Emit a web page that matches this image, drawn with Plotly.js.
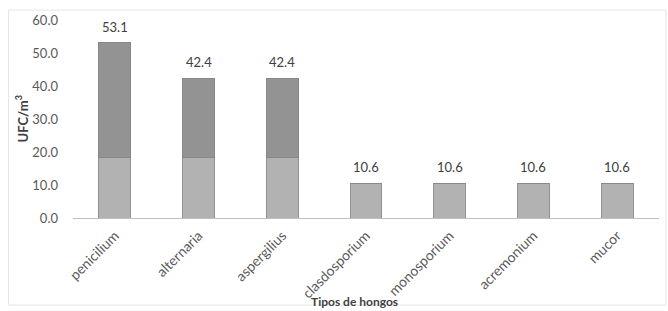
<!DOCTYPE html>
<html>
<head>
<meta charset="utf-8">
<script src="https://cdn.plot.ly/plotly-3.0.1.min.js"></script>
<style>
html,body{margin:0;padding:0;background:#fff;}
#chart{width:668px;height:311px;}
</style>
</head>
<body>
<div id="chart"></div>
<script>
// Data
const categories = ["penicilium", "alternaria", "aspergilius", "clasdosporium", "monosporium", "acremonium", "mucor"];
const lowerPart = [18.2, 18.2, 18.2, 10.6, 10.6, 10.6, 10.6];
const upperPart = [34.9, 24.2, 24.2, 0, 0, 0, 0];
const totals = [53.1, 42.4, 42.4, 10.6, 10.6, 10.6, 10.6];
const totalLabels = ["53.1", "42.4", "42.4", "10.6", "10.6", "10.6", "10.6"];
const yTickVals = [0, 10, 20, 30, 40, 50, 60];
const yTickText = ["0.0", "10.0", "20.0", "30.0", "40.0", "50.0", "60.0"];

const font = "Lato, 'Open Sans', sans-serif";

const traces = [
  {type: "bar", x: categories, y: lowerPart, marker: {color: "#b2b2b2", line: {color: "#939393", width: 1}}, hoverinfo: "skip"},
  {type: "bar", x: categories, y: upperPart, marker: {color: "#939393", line: {color: "#888888", width: 1}}, hoverinfo: "skip"}
];

const labelAnnotations = categories.map((c, i) => ({
  x: c, y: totals[i], xref: "x", yref: "y", text: totalLabels[i], showarrow: false,
  yanchor: "bottom", yshift: 6, font: {family: font, size: 13, color: "#404040"}
}));

const layout = {
  width: 668, height: 311,
  margin: {l: 73, r: 9, t: 20, b: 93},
  paper_bgcolor: "#ffffff", plot_bgcolor: "#ffffff",
  barmode: "stack", bargap: 0.62, showlegend: false,
  font: {family: font, color: "#595959"},
  xaxis: {
    type: "category", tickangle: -45, showline: true, linecolor: "#bfbfbf", linewidth: 1,
    ticks: "", showgrid: false, ticklabelstandoff: 3, tickfont: {family: font, size: 14, color: "#595959"}, automargin: false
  },
  yaxis: {
    range: [0, 60], tickvals: yTickVals, ticktext: yTickText, showgrid: false, zeroline: false,
    showline: false, ticks: "", ticklabelstandoff: 14, tickfont: {family: font, size: 13, color: "#595959"}, automargin: false
  },
  annotations: labelAnnotations.concat([
    {text: "<b>Tipos de hongos</b>", xref: "paper", yref: "paper", x: 0.48, y: -0.42, showarrow: false,
     font: {family: font, size: 12, color: "#404040"}, xanchor: "center", yanchor: "middle"},
    {text: "<b>UFC/m<sup>3</sup></b>", xref: "paper", yref: "paper", x: -0.088, y: 0.5, textangle: -90, showarrow: false,
     font: {family: font, size: 13, color: "#404040"}, xanchor: "center", yanchor: "middle"}
  ]),
  shapes: [
    {type: "rect", xref: "paper", yref: "paper", x0: -0.11, x1: 1.012, y0: -0.44, y1: 1.05,
     line: {color: "#e6e6e6", width: 1}}
  ]
};

Plotly.newPlot("chart", traces, layout, {displayModeBar: false, staticPlot: true});
</script>
</body>
</html>
